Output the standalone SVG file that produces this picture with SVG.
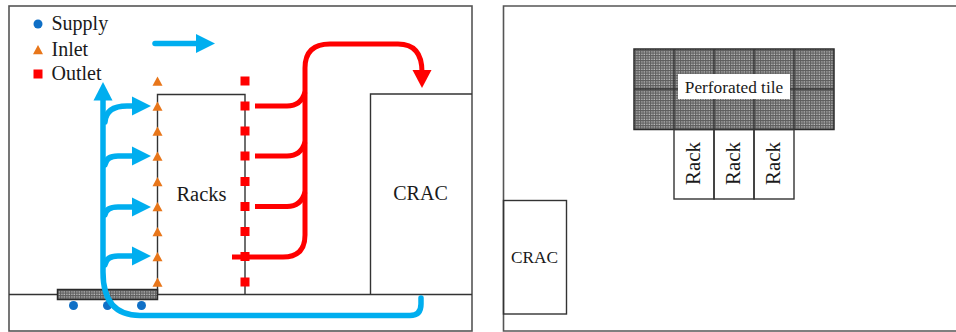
<svg xmlns="http://www.w3.org/2000/svg" width="956" height="332" viewBox="0 0 956 332">
<style>
.frame{fill:none;stroke:#555;stroke-width:1.6}
.box{fill:none;stroke:#333;stroke-width:1.4}
.tile{fill:url(#hatch);stroke:#2a2a2a;stroke-width:1.5}
.t{font-family:"Liberation Serif","Times New Roman",serif;fill:#1a1a1a;text-anchor:middle}
.lg{font-family:"Liberation Serif","Times New Roman",serif;fill:#1a1a1a;font-size:20px}
.blue{fill:none;stroke:#00aeef;stroke-width:5.500;stroke-linecap:round}
.red{fill:none;stroke:#f00;stroke-width:5}
.bh{fill:#00aeef}.rh{fill:#f00}
.sup{fill:#0f6fc6}.inl{fill:#e8761a}.out{fill:#f00}
</style>
<defs>
<pattern id="hatch" width="2.500" height="2.500" patternUnits="userSpaceOnUse">
<rect width="2.500" height="2.500" fill="#c4c4c4"/>
<path d="M0 .6H2.500M.6 0V2.500" stroke="#5c5c5c" stroke-width="1.100"/>
</pattern>
<polygon id="tri" points="0,-5 5,4.300 -5,4.300"/>
<rect id="sq" x="-4.500" y="-4.500" width="9" height="9"/>
<polygon id="ah" points="0,-9.500 19,0 0,9.500"/>
</defs>
<rect width="956" height="332" fill="#fff"/>

<g id="left-panel">
<rect class="frame" x="9" y="6" width="463" height="325"/>
<path class="box" d="M9 294.500H472"/>
</g>

<g id="racks">
<path class="box" d="M157.500 294V94.500H245V294"/>
<text class="t" x="201.500" y="201" font-size="20.500">Racks</text>
</g>
<g id="crac-left-panel">
<path class="box" d="M370.500 294V94H472"/>
<text class="t" x="420.500" y="200" font-size="20">CRAC</text>
</g>
<g id="floor-tile">
<rect class="tile" x="57.500" y="289.500" width="100" height="10"/>
</g>
<g id="supply-points" class="sup">
<circle cx="73.500" cy="305.500" r="4.500"/><circle cx="107.500" cy="305.500" r="4.500"/><circle cx="141.500" cy="305.500" r="4.500"/>
</g>

<g id="connectors">
<g id="supply-air">
<path class="blue" d="M421 298V304Q421 315.500 410 315.500H140Q103 315.500 103 272V100"/>
<polygon class="bh" points="103,82 112.500,100.500 93.500,100.500"/>
<path class="blue" d="M105 122Q106 106 127 106H134"/>
<use href="#ah" class="bh" x="132" y="106"/>
<path class="blue" d="M105 165Q106 156 118 156H134"/>
<use href="#ah" class="bh" x="132" y="156"/>
<path class="blue" d="M105 215Q106 207 118 207H134"/>
<use href="#ah" class="bh" x="132" y="207"/>
<path class="blue" d="M105 265Q106 256 118 256H134"/>
<use href="#ah" class="bh" x="132" y="256"/>
<path class="blue" d="M155 43.500H198"/>
<use href="#ah" class="bh" x="196" y="43.500"/>
</g>
<g id="return-air">
<path class="red" d="M232 257H283Q305 257 305 235V68Q305 44 330 44H398Q422 44 422 72"/>
<polygon class="rh" points="412.500,70 431.500,70 422,88"/>
<path class="red" d="M255 106H287Q301 106 305 92"/>
<path class="red" d="M255 156H287Q301 156 305 142"/>
<path class="red" d="M255 206.500H287Q301 206.500 305 192"/>
</g>
</g>

<g id="markers">
<g class="inl">
<use href="#tri" x="157.500" y="81.500"/><use href="#tri" x="157.500" y="106.500"/><use href="#tri" x="157.500" y="131.500"/><use href="#tri" x="157.500" y="156.500"/><use href="#tri" x="157.500" y="182"/><use href="#tri" x="157.500" y="207"/><use href="#tri" x="157.500" y="232"/><use href="#tri" x="157.500" y="257"/><use href="#tri" x="157.500" y="282.500"/>
</g>
<g class="out">
<use href="#sq" x="245" y="81"/><use href="#sq" x="245" y="106"/><use href="#sq" x="245" y="131"/><use href="#sq" x="245" y="156"/><use href="#sq" x="245" y="181.500"/><use href="#sq" x="245" y="206.500"/><use href="#sq" x="245" y="231.500"/><use href="#sq" x="245" y="256.500"/><use href="#sq" x="245" y="282"/>
</g>
</g>

<g id="legend">
<circle class="sup" cx="38" cy="24" r="4.500"/>
<text class="lg" x="51.500" y="30">Supply</text>
<use href="#tri" class="inl" x="38" y="50"/>
<text class="lg" x="51.500" y="55.500">Inlet</text>
<use href="#sq" class="out" x="38" y="74"/>
<text class="lg" x="51.500" y="79.500">Outlet</text>
</g>

<g id="right-panel">
<path class="frame" d="M956 6H503.500V331H956"/>
</g>
<g id="perforated-tiles">
<rect class="tile" x="634" y="49" width="200" height="80.500"/>
<path class="box" d="M674 49V129.500M714 49V129.500M754 49V129.500M794 49V129.500M634 89H834"/>
<rect x="678" y="74" width="112" height="25" fill="#fff"/>
<text class="t" x="734" y="92.500" font-size="17.300">Perforated tile</text>
</g>
<g id="rack-1">
<rect class="box" x="674" y="129.500" width="40" height="69.500"/>
<text class="t" transform="translate(700,163.500) rotate(-90)" font-size="21">Rack</text>
</g>
<g id="rack-2">
<rect class="box" x="714" y="129.500" width="40" height="69.500"/>
<text class="t" transform="translate(739.500,163.500) rotate(-90)" font-size="21">Rack</text>
</g>
<g id="rack-3">
<rect class="box" x="754" y="129.500" width="40" height="69.500"/>
<text class="t" transform="translate(779.500,163.500) rotate(-90)" font-size="21">Rack</text>
</g>
<g id="crac-right-panel">
<rect class="box" x="503.500" y="200.500" width="63" height="113.500"/>
<text class="t" x="534.500" y="263" font-size="17.300">CRAC</text>
</g>
</svg>
